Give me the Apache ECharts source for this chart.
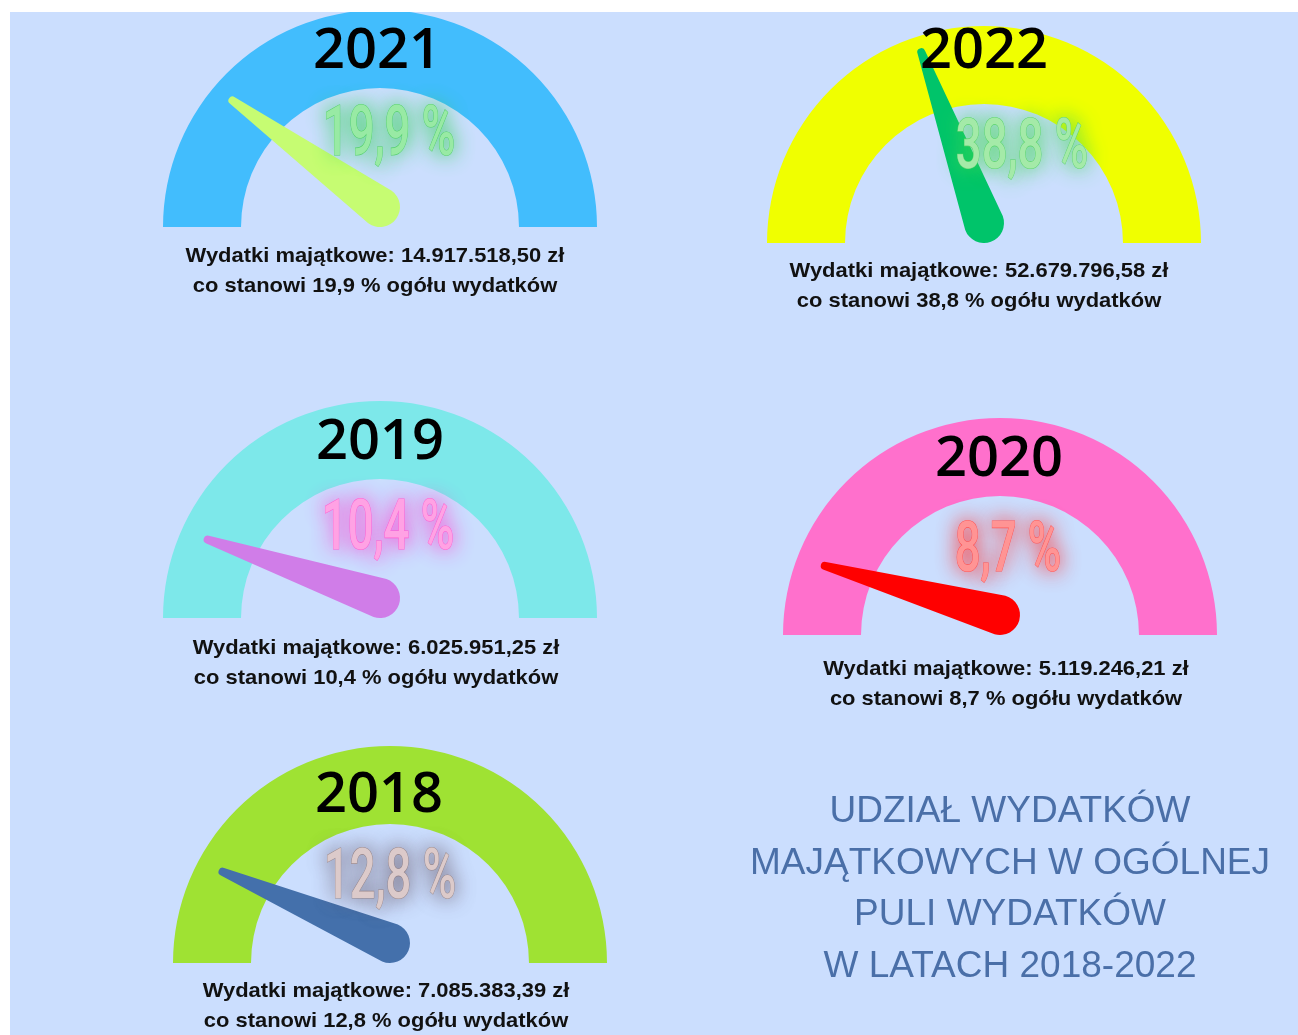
<!DOCTYPE html>
<html>
<head>
<meta charset="utf-8">
<script src="https://cdn.jsdelivr.net/npm/echarts@6/dist/echarts.min.js"></script>
<style>
html,body{margin:0;padding:0;background:#ffffff;}
#chart{width:1298px;height:1035px;}
</style>
</head>
<body>
<div id="chart"></div>
<script>
// ---- data ----
const years = ['2021', '2022', '2019', '2020', '2018'];
const shares = [19.9, 38.8, 10.4, 8.7, 12.8];
const amounts = ['14.917.518,50', '52.679.796,58', '6.025.951,25', '5.119.246,21', '7.085.383,39'];
const titleLines = ['UDZIAŁ WYDATKÓW', 'MAJĄTKOWYCH W OGÓLNEJ', 'PULI WYDATKÓW', 'W LATACH 2018-2022'];

// ---- styles ----
const arcColors = ['#42bdfd', '#f0ff00', '#7de8ea', '#ff70cc', '#9fe233'];
const needleColors = ['#c6fc72', '#00c46a', '#d07de8', '#ff0000', '#4470ab'];
const pctFill = ['#98eaa4', '#a4eaa8', '#ffa2e4', '#ff9494', '#dccaca'];
const pctStroke = ['#5fcf72', '#66d276', '#ff6ad2', '#ff6464', '#a89898'];
const pctGlow = ['#2fd150', '#44d855', '#ff3fd0', '#ff3030', '#6a5a6a'];

// ---- layout ----
const centers = [[380, 227], [984, 243], [380, 618], [1000, 635], [390, 963]];
const yearPos = [[377, 52], [984, 52], [380, 443], [999, 460], [379, 796]];
const pctPos = [[389, 137], [1022, 150], [388, 531], [1008, 553], [390, 880]];
const capPos = [[375, 256], [979, 271], [376, 648], [1006, 669], [386, 991]];
const titlePos = [1010, 812];
const titleStep = 51.5;

const needlePath = 'path://M16 4A4 4 0 0 1 24 4L40 186A20 20 0 0 1 0 186Z';

const fmtPct = v => String(v).replace('.', ',') + ' %';

const series = [];
const graphic = [
  { type: 'rect', z: -10, shape: { x: 10, y: 12, width: 1288, height: 1023 }, style: { fill: '#cbdefe' }, silent: true }
];

years.forEach((y, i) => {
  const c = centers[i];
  series.push({
    type: 'gauge', center: [c[0], c[1]], radius: 217,
    startAngle: 180, endAngle: 0, min: 0, max: 100,
    axisLine: { lineStyle: { width: 78, color: [[1, arcColors[i]]] } },
    splitLine: { show: false }, axisTick: { show: false }, axisLabel: { show: false },
    pointer: { show: false }, anchor: { show: false }, title: { show: false }, detail: { show: false },
    progress: { show: false },
    silent: true, animation: false,
    data: [{ value: shares[i], name: y }]
  });
  series.push({
    type: 'gauge', center: [c[0], c[1] - 20], radius: 217,
    startAngle: 180, endAngle: 0, min: 0, max: 100,
    axisLine: { show: false },
    splitLine: { show: false }, axisTick: { show: false }, axisLabel: { show: false },
    pointer: { show: true, icon: needlePath, length: 206, width: 40, offsetCenter: [0, 20],
      itemStyle: { color: needleColors[i] } },
    anchor: { show: false }, title: { show: false }, detail: { show: false },
    progress: { show: false },
    silent: true, animation: false,
    data: [{ value: shares[i], name: y }]
  });

  graphic.push({
    type: 'text', z: 50, x: yearPos[i][0], y: yearPos[i][1], silent: true,
    style: { text: y, fill: '#000000', font: '600 56px "Open Sans", sans-serif',
      textAlign: 'center', textVerticalAlign: 'middle' }
  });
  graphic.push({
    type: 'text', z: 50, x: pctPos[i][0], y: pctPos[i][1], scaleX: 0.64, silent: true,
    style: { text: fmtPct(shares[i]), fill: pctFill[i], stroke: pctStroke[i], lineWidth: 1.2,
      font: '500 71px Roboto, sans-serif', textAlign: 'center', textVerticalAlign: 'middle',
      textShadowBlur: 20, textShadowColor: pctGlow[i], shadowBlur: 20, shadowColor: pctGlow[i] }
  });
  const lines = ['Wydatki majątkowe: ' + amounts[i] + ' zł', 'co stanowi ' + fmtPct(shares[i]) + ' ogółu wydatków'];
  lines.forEach((t, k) => {
    graphic.push({
      type: 'text', z: 50, x: capPos[i][0], y: capPos[i][1] + k * 30, scaleX: 1.07, silent: true,
      style: { text: t, fill: '#111111', font: 'bold 20.5px "Liberation Sans", Arial, sans-serif',
        textAlign: 'center', textVerticalAlign: 'middle' }
    });
  });
});

titleLines.forEach((t, k) => {
  graphic.push({
    type: 'text', z: 50, x: titlePos[0], y: titlePos[1] + k * titleStep, silent: true,
    style: { text: t, fill: '#4a6fa8', font: '37px "Liberation Sans", Arial, sans-serif',
      textAlign: 'center', textVerticalAlign: 'middle' }
  });
});

graphic.push({ type: 'rect', z: 100, shape: { x: 0, y: 0, width: 1298, height: 12 }, style: { fill: '#ffffff' }, silent: true });
graphic.push({ type: 'rect', z: 100, shape: { x: 0, y: 0, width: 10, height: 1035 }, style: { fill: '#ffffff' }, silent: true });

const chart = echarts.init(document.getElementById('chart'), null, { renderer: 'canvas' });
chart.setOption({ animation: false, series: series, graphic: graphic });
</script>
</body>
</html>
